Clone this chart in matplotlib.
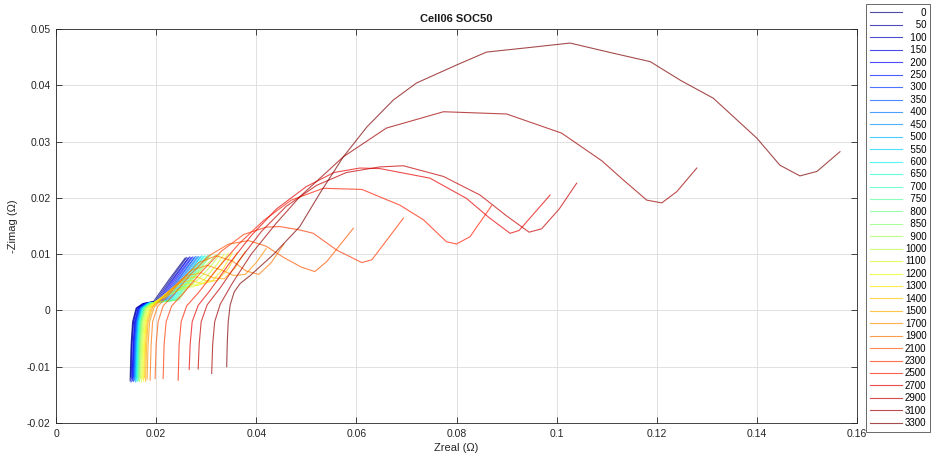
import numpy as np
import matplotlib.pyplot as plt

plt.rcParams['font.family'] = ['Liberation Sans', 'DejaVu Sans']

labels = ['0', '50', '100', '150', '200', '250', '300', '350', '400', '450', '500',
          '550', '600', '650', '700', '750', '800', '850', '900', '1000', '1100',
          '1200', '1300', '1400', '1500', '1700', '1900', '2100', '2300', '2500',
          '2700', '2900', '3100', '3300']

# early spectra (0 .. 850): short plateau then diffusion tail
x_0 = [.0148, .0150, .0153, .0160, .0173, .0195, .0226, .0258]
y_0 = [-.0125, -.0060, -.0020, .0004, .0012, .0016, .0055, .0093]
x_50 = [.0149, .0151, .0154, .0161, .0174, .0198, .0229, .0261]
y_50 = [-.0118, -.0060, -.0020, .0004, .0012, .0016, .0055, .0094]
x_100 = [.0150, .0152, .0155, .0162, .0175, .0201, .0232, .0264]
y_100 = [-.0127, -.0060, -.0020, .0004, .0012, .0016, .0055, .0093]
x_150 = [.0152, .0154, .0157, .0164, .0177, .0204, .0235, .0267]
y_150 = [-.0121, -.0060, -.0020, .0004, .0012, .0016, .0056, .0095]
x_200 = [.0153, .0155, .0158, .0165, .0178, .0207, .0238, .0270]
y_200 = [-.0125, -.0060, -.0020, .0004, .0012, .0016, .0056, .0094]
x_250 = [.0154, .0156, .0159, .0166, .0179, .0210, .0241, .0273]
y_250 = [-.0117, -.0060, -.0020, .0004, .0012, .0016, .0056, .0095]
x_300 = [.0155, .0157, .0160, .0167, .0180, .0213, .0244, .0276]
y_300 = [-.0126, -.0060, -.0020, .0004, .0012, .0016, .0056, .0094]
x_350 = [.0156, .0158, .0161, .0168, .0181, .0216, .0247, .0279]
y_350 = [-.0120, -.0060, -.0020, .0004, .0012, .0016, .0057, .0096]
x_400 = [.0157, .0159, .0162, .0169, .0182, .0219, .0250, .0282]
y_400 = [-.0124, -.0060, -.0020, .0004, .0012, .0017, .0057, .0095]
x_450 = [.0158, .0160, .0163, .0170, .0183, .0222, .0253, .0285]
y_450 = [-.0118, -.0060, -.0020, .0004, .0012, .0017, .0057, .0096]
x_500 = [.0159, .0161, .0164, .0171, .0184, .0225, .0256, .0288]
y_500 = [-.0127, -.0060, -.0020, .0004, .0013, .0017, .0057, .0095]
x_550 = [.0160, .0162, .0165, .0172, .0185, .0228, .0259, .0291]
y_550 = [-.0121, -.0060, -.0020, .0004, .0013, .0017, .0058, .0097]
x_600 = [.0161, .0163, .0166, .0173, .0186, .0231, .0262, .0294]
y_600 = [-.0125, -.0060, -.0020, .0004, .0013, .0018, .0058, .0096]
x_650 = [.0162, .0164, .0167, .0174, .0187, .0234, .0265, .0297]
y_650 = [-.0119, -.0060, -.0020, .0004, .0013, .0018, .0058, .0097]
x_700 = [.0163, .0165, .0168, .0175, .0188, .0237, .0268, .0300]
y_700 = [-.0126, -.0060, -.0020, .0004, .0013, .0018, .0058, .0096]
x_750 = [.0164, .0166, .0169, .0176, .0189, .0240, .0271, .0303]
y_750 = [-.0120, -.0060, -.0020, .0004, .0013, .0019, .0059, .0098]
x_800 = [.0165, .0167, .0170, .0177, .0190, .0243, .0274, .0306]
y_800 = [-.0124, -.0060, -.0020, .0004, .0013, .0019, .0059, .0097]
x_850 = [.0166, .0168, .0171, .0178, .0191, .0246, .0277, .0309]
y_850 = [-.0118, -.0060, -.0020, .0004, .0013, .0019, .0059, .0098]

# mid spectra (900 .. 1900): first arc starts to open
x_900 = [.0167, .0169, .0172, .0179, .0190, .0205, .0222, .0240, .0258, .0280, .0302, .0320]
y_900 = [-.0126, -.0060, -.0020, .0004, .0012, .0018, .0025, .0034, .0045, .0063, .0082, .0099]
x_1000 = [.0169, .0171, .0174, .0181, .0193, .0210, .0230, .0250, .0268, .0290, .0312, .0328]
y_1000 = [-.0120, -.0060, -.0020, .0004, .0013, .0021, .0030, .0037, .0043, .0060, .0082, .0100]
x_1100 = [.0171, .0173, .0176, .0183, .0196, .0215, .0236, .0256, .0275, .0296, .0318, .0336]
y_1100 = [-.0127, -.0060, -.0020, .0004, .0014, .0025, .0036, .0041, .0042, .0055, .0078, .0100]
x_1200 = [.0173, .0175, .0178, .0186, .0200, .0220, .0243, .0263, .0283, .0303, .0325, .0344]
y_1200 = [-.0121, -.0060, -.0020, .0005, .0016, .0030, .0043, .0047, .0044, .0053, .0076, .0101]
x_1300 = [.0175, .0177, .0180, .0188, .0203, .0225, .0250, .0272, .0292, .0312, .0334, .0352]
y_1300 = [-.0125, -.0060, -.0020, .0005, .0017, .0034, .0050, .0053, .0047, .0052, .0074, .0102]
x_1400 = [.0177, .0179, .0182, .0190, .0206, .0230, .0257, .0280, .0302, .0322, .0344, .0362]
y_1400 = [-.0119, -.0060, -.0020, .0005, .0018, .0038, .0056, .0060, .0052, .0053, .0074, .0103]
x_1500 = [.0179, .0181, .0184, .0193, .0210, .0236, .0264, .0290, .0314, .0336, .0358, .0378]
y_1500 = [-.0126, -.0060, -.0020, .0006, .0020, .0042, .0062, .0067, .0058, .0056, .0076, .0105]
x_1700 = [.0182, .0184, .0187, .0196, .0214, .0242, .0272, .0302, .0330, .0355, .0378, .0400, .0420]
y_1700 = [-.0122, -.0060, -.0020, .0006, .0022, .0048, .0072, .0080, .0072, .0062, .0064, .0085, .0110]
x_1900 = [.0188, .0190, .0193, .0203, .0222, .0252, .0285, .0320, .0352, .0380, .0405, .0430, .0455]
y_1900 = [-.0124, -.0060, -.0020, .0007, .0025, .0055, .0085, .0097, .0088, .0070, .0064, .0085, .0118]

# late spectra (2100 .. 3300): large arcs
x_2100 = [.0198, .0200, .0204, .0214, .0235, .0268, .0305, .0345, .0385, .0420, .0455, .0490, .0517, .0541, .0594]
y_2100 = [-.0121, -.0060, -.0020, .0008, .0028, .0063, .0097, .0118, .0124, .0114, .0094, .0077, .0069, .0087, .0146]
x_2300 = [.0214, .0216, .0220, .0231, .0254, .0290, .0330, .0375, .0420, .0447, .0487, .0514, .0561, .0611, .0631, .0694]
y_2300 = [-.0121, -.0060, -.0020, .0008, .0030, .0068, .0105, .0135, .0148, .0149, .0143, .0137, .0107, .0085, .0090, .0164]
x_2500 = [.0244, .0246, .0250, .0261, .0285, .0320, .0365, .0415, .0470, .0534, .0611, .0687, .0734, .0780, .0800, .0827, .0870]
y_2500 = [-.0124, -.0060, -.0020, .0008, .0032, .0072, .0118, .0160, .0196, .0217, .0215, .0187, .0161, .0122, .0118, .0131, .0186]
x_2700 = [.0266, .0268, .0272, .0284, .0308, .0345, .0390, .0440, .0500, .0555, .0607, .0647, .0747, .0820, .0865, .0907, .0925, .0987]
y_2700 = [-.0105, -.0060, -.0020, .0009, .0036, .0082, .0133, .0180, .0220, .0245, .0253, .0252, .0235, .0199, .0165, .0137, .0142, .0205]
x_2900 = [.0284, .0286, .0290, .0302, .0328, .0365, .0410, .0460, .0520, .0580, .0647, .0694, .0774, .0847, .0900, .0945, .0970, .1005, .1040]
y_2900 = [-.0104, -.0060, -.0020, .0010, .0040, .0088, .0140, .0185, .0222, .0245, .0255, .0257, .0238, .0205, .0168, .0139, .0145, .0180, .0226]
x_3100 = [.0311, .0313, .0317, .0328, .0352, .0390, .0440, .0487, .0574, .0660, .0774, .0900, .1010, .1090, .1133, .1180, .1210, .1240, .1280]
y_3100 = [-.0112, -.0060, -.0020, .0011, .0048, .0100, .0155, .0202, .0273, .0324, .0353, .0349, .0315, .0266, .0232, .0196, .0191, .0211, .0253]
x_3300 = [.0341, .0342, .0344, .0348, .0356, .0368, .0388, .0435, .0487, .0527, .0574, .0621, .0674, .0720, .0800,
          .0860, .0934, .1027, .1113, .1187, .1247, .1313, .1400, .1446, .1486, .1520, .1566]
y_3300 = [-.0100, -.0060, -.0020, .0010, .0033, .0048, .0062, .0100, .0149, .0208, .0273, .0326, .0374, .0404, .0436,
          .0459, .0466, .0475, .0457, .0442, .0409, .0377, .0306, .0258, .0239, .0247, .0282]

xs = [x_0, x_50, x_100, x_150, x_200, x_250, x_300, x_350, x_400, x_450, x_500, x_550,
      x_600, x_650, x_700, x_750, x_800, x_850, x_900, x_1000, x_1100, x_1200, x_1300,
      x_1400, x_1500, x_1700, x_1900, x_2100, x_2300, x_2500, x_2700, x_2900, x_3100, x_3300]
ys = [y_0, y_50, y_100, y_150, y_200, y_250, y_300, y_350, y_400, y_450, y_500, y_550,
      y_600, y_650, y_700, y_750, y_800, y_850, y_900, y_1000, y_1100, y_1200, y_1300,
      y_1400, y_1500, y_1700, y_1900, y_2100, y_2300, y_2500, y_2700, y_2900, y_3100, y_3300]

fig = plt.figure(figsize=(9.32, 4.62), dpi=100)
ax = fig.add_axes([56/932, 39/462, 801/932, 394/462])

colors = plt.cm.jet(np.linspace(0, 1, len(labels)))
for i in range(len(labels)):
    # pad with figure spaces so the numbers line up on the right like matlab
    lab = '\u2007' * (4 - len(labels[i])) + labels[i]
    ax.plot(xs[i], ys[i], color=colors[i], alpha=0.7, lw=0.8, label=lab)

ax.set_xlim(0, 0.16)
ax.set_ylim(-0.02, 0.05)
ax.set_xticks(np.arange(0, 0.161, 0.02))
ax.set_xticklabels(['0', '0.02', '0.04', '0.06', '0.08', '0.1', '0.12', '0.14', '0.16'])
ax.set_yticks(np.arange(-0.02, 0.0501, 0.01))
ax.set_yticklabels(['-0.02', '-0.01', '0', '0.01', '0.02', '0.03', '0.04', '0.05'])
ax.grid(True, color='#dcdcdc', lw=0.6)
ax.set_axisbelow(True)
ax.tick_params(direction='in', top=True, right=True, length=4, width=0.6,
               labelsize=7.5, colors='#262626', pad=4)
for s in ax.spines.values():
    s.set_color('#262626')
    s.set_linewidth(0.6)

ax.set_xlabel('Zreal (\u03a9)', fontsize=8, color='#262626', labelpad=3)
ax.set_ylabel('-Zimag (\u03a9)', fontsize=8, color='#262626', labelpad=6)
ax.set_title('Cell06 SOC50', fontsize=8, fontweight='bold', color='#1a1a1a', pad=5)

leg = fig.legend(loc='upper left', bbox_to_anchor=(866/932, 1 - 4/462), fontsize=7,
                 frameon=True, fancybox=False, edgecolor='#262626', labelspacing=0.25,
                 handlelength=3.3, handletextpad=0.3, borderpad=0.4, borderaxespad=0)
leg.get_frame().set_linewidth(0.6)

fig.savefig('out.png', dpi=100)
